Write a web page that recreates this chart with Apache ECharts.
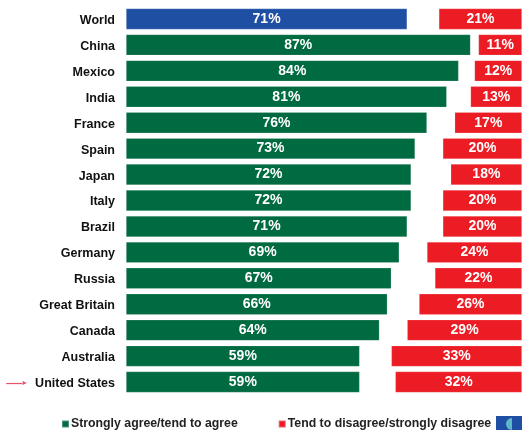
<!DOCTYPE html>
<html>
<head>
<meta charset="utf-8">
<script src="https://cdn.jsdelivr.net/npm/echarts@6/dist/echarts.min.js"></script>
<style>html,body{margin:0;padding:0;background:#fff;}#c{width:522px;height:430px;}</style>
</head>
<body>
<div id="c"></div>
<script>
const countries = ['World','China','Mexico','India','France','Spain','Japan','Italy','Brazil','Germany','Russia','Great Britain','Canada','Australia','United States'];
const agree = [71,87,84,81,76,73,72,72,71,69,67,66,64,59,59];
const disagree = [21,11,12,13,17,20,18,20,20,24,22,26,29,33,32];
const agreeName = 'Strongly agree/tend to agree';
const disagreeName = 'Tend to disagree/strongly disagree';

const GREEN = '#006a40', BLUE = '#1f4fa3', RED = '#ec1c24';
const chart = echarts.init(document.getElementById('c'), null, {renderer: 'canvas'});
const labelFont = {show: true, position: 'inside', color: '#fff', fontWeight: 'bold', fontSize: 14, padding: [3,0,0,0], fontFamily: 'Liberation Sans, Arial, sans-serif', formatter: p => p.value + '%'};

chart.setOption({
  animation: false,
  grid: {left: 126, width: 398, top: 6, height: 389, containLabel: false},
  xAxis: {type: 'value', min: 0, max: 100, show: false},
  yAxis: {
    type: 'category', data: countries, inverse: true,
    axisLine: {show: false}, axisTick: {show: false}, splitLine: {show: false},
    axisLabel: {
      margin: 11, color: '#111', fontWeight: 'bold', fontSize: 12.5, padding: [3,0,0,0],
      fontFamily: 'Liberation Sans, Arial, sans-serif',
      formatter: v => v === 'United States' ? '{ln|}{hd|►}  ' + v : v,
      rich: {
        ln: {width: 16, height: 1.2, backgroundColor: '#e8506a'},
        hd: {color: '#e8506a', fontSize: 7, padding: [0,0,0,-1]}
      }
    }
  },
  legend: {
    left: 56, top: 413, itemWidth: 7, itemHeight: 7, itemGap: 40, icon: 'rect',
    data: [{name: agreeName, itemStyle: {color: GREEN}}, {name: disagreeName, itemStyle: {color: RED}}],
    textStyle: {color: '#222', fontWeight: 'bold', fontSize: 12.3, fontFamily: 'Liberation Sans, Arial, sans-serif', padding: [0,0,0,-3]}
  },
  series: [
    {
      name: agreeName, type: 'bar', stack: 's', barWidth: 21,
      data: agree.map((v, i) => ({value: v, itemStyle: {color: i === 0 ? BLUE : GREEN}})),
      itemStyle: {color: GREEN, borderColor: 'rgba(255,255,255,0.3)', borderWidth: 0.6},
      label: labelFont
    },
    {
      name: 'gap', type: 'bar', stack: 's', barWidth: 21,
      data: agree.map((v, i) => 100 - v - disagree[i]),
      itemStyle: {color: 'rgba(0,0,0,0)'}, label: {show: false}, silent: true
    },
    {
      name: disagreeName, type: 'bar', stack: 's', barWidth: 21,
      data: disagree,
      itemStyle: {color: RED, borderColor: 'rgba(255,255,255,0.3)', borderWidth: 0.6},
      label: labelFont
    }
  ],
  graphic: [
    {type: 'rect', left: 496, top: 416, shape: {width: 30, height: 16}, style: {fill: '#1f4fa3'}},
    {type: 'circle', left: 506, top: 418, shape: {r: 6}, style: {fill: '#5fb8c8'}},
    {type: 'rect', left: 512, top: 418, shape: {width: 6, height: 12}, style: {fill: '#1f4fa3'}}
  ]
});
</script>
</body>
</html>
